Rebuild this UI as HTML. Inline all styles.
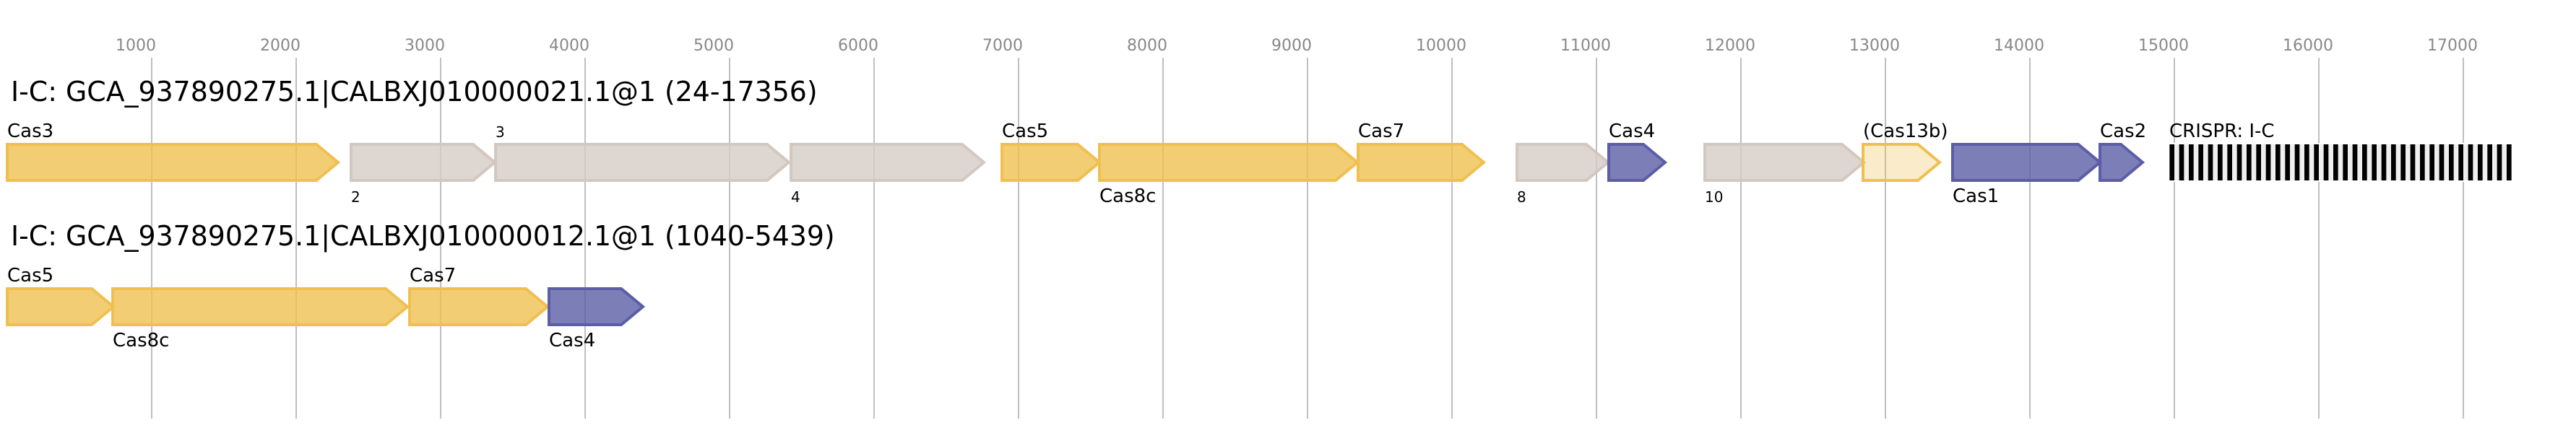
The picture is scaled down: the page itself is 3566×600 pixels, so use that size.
<!DOCTYPE html>
<html>
<head>
<meta charset="utf-8">
<style>
html,body{margin:0;padding:0;background:#fff;width:3566px;height:600px;overflow:hidden}
svg{display:block}
text{font-family:"DejaVu Sans","Liberation Sans",sans-serif;fill:#000}
.t{font-size:22px;fill:#888}
.h{font-size:37.85px}
.l{font-size:26px}
.s{font-size:20px}
.g{stroke-width:4;stroke-linejoin:miter;stroke-miterlimit:10;fill-opacity:.8}
.y{stroke:#efc050;fill:#efc050}
.b{stroke:#5b5ea6;fill:#5b5ea6}
.n{stroke:#d3c8c0;fill:#d4ccc6}
.p{stroke:#efc050;fill:#efc050;fill-opacity:.3}
</style>
</head>
<body>
<svg xmlns="http://www.w3.org/2000/svg" width="3566" height="600" viewBox="0 0 3566 600">
<rect width="3566" height="600" fill="#fff"/>
<g fill="#bfbfbf">
<rect x="209" y="80" width="2" height="500"/><rect x="409" y="80" width="2" height="500"/><rect x="609" y="80" width="2" height="500"/><rect x="809" y="80" width="2" height="500"/><rect x="1009" y="80" width="2" height="500"/><rect x="1209" y="80" width="2" height="500"/><rect x="1409" y="80" width="2" height="500"/><rect x="1609" y="80" width="2" height="500"/><rect x="1809" y="80" width="2" height="500"/><rect x="2009" y="80" width="2" height="500"/><rect x="2209" y="80" width="2" height="500"/><rect x="2409" y="80" width="2" height="500"/><rect x="2609" y="80" width="2" height="500"/><rect x="2809" y="80" width="2" height="500"/><rect x="3009" y="80" width="2" height="500"/><rect x="3209" y="80" width="2" height="500"/><rect x="3409" y="80" width="2" height="500"/>
</g>
<g class="tk">
<text class="t" x="160" y="70">1000</text><text class="t" x="360" y="70">2000</text><text class="t" x="560" y="70">3000</text><text class="t" x="760" y="70">4000</text><text class="t" x="960" y="70">5000</text><text class="t" x="1160" y="70">6000</text><text class="t" x="1360" y="70">7000</text><text class="t" x="1560" y="70">8000</text><text class="t" x="1760" y="70">9000</text><text class="t" x="1960" y="70">10000</text><text class="t" x="2160" y="70">11000</text><text class="t" x="2360" y="70">12000</text><text class="t" x="2560" y="70">13000</text><text class="t" x="2760" y="70">14000</text><text class="t" x="2960" y="70">15000</text><text class="t" x="3160" y="70">16000</text><text class="t" x="3360" y="70">17000</text>
</g>

<text class="h" x="15" y="140">I-C: GCA_937890275.1|CALBXJ010000021.1@1 (24-17356)</text>

<polygon class="g y" points="10,200 438,200 468,225 438,250 10,250"/>
<polygon class="g n" points="486,200 655,200 685,225 655,250 486,250"/>
<polygon class="g n" points="686,200 1062,200 1092,225 1062,250 686,250"/>
<polygon class="g n" points="1095,200 1332,200 1362,225 1332,250 1095,250"/>
<polygon class="g y" points="1387,200 1492,200 1522,225 1492,250 1387,250"/>
<polygon class="g y" points="1522,200 1849,200 1879,225 1849,250 1522,250"/>
<polygon class="g y" points="1880,200 2024,200 2054,225 2024,250 1880,250"/>
<polygon class="g n" points="2100,200 2196,200 2226,225 2196,250 2100,250"/>
<polygon class="g b" points="2227,200 2275,200 2305,225 2275,250 2227,250"/>
<polygon class="g n" points="2360,200 2550,200 2580,225 2550,250 2360,250"/>
<polygon class="g p" points="2579,200 2655,200 2685,225 2655,250 2579,250"/>
<polygon class="g b" points="2703,200 2877,200 2907,225 2877,250 2703,250"/>
<polygon class="g b" points="2907,200 2936,200 2966,225 2936,250 2907,250"/>

<rect x="3001.33" y="198" width="477.34" height="54" fill="#fff"/>
<rect x="3003.33" y="200" width="473.34" height="50" fill="#efefef"/>
<g fill="#000">
<rect x="3003.33" y="200" width="6.67" height="50"/><rect x="3016.67" y="200" width="6.67" height="50"/><rect x="3030" y="200" width="6.67" height="50"/><rect x="3043.33" y="200" width="6.67" height="50"/><rect x="3056.67" y="200" width="6.67" height="50"/><rect x="3070" y="200" width="6.67" height="50"/><rect x="3083.33" y="200" width="6.67" height="50"/><rect x="3096.67" y="200" width="6.67" height="50"/><rect x="3110" y="200" width="6.67" height="50"/><rect x="3123.33" y="200" width="6.67" height="50"/><rect x="3136.67" y="200" width="6.67" height="50"/><rect x="3150" y="200" width="6.67" height="50"/><rect x="3163.33" y="200" width="6.67" height="50"/><rect x="3176.67" y="200" width="6.67" height="50"/><rect x="3190" y="200" width="6.67" height="50"/><rect x="3203.33" y="200" width="6.67" height="50"/><rect x="3216.67" y="200" width="6.67" height="50"/><rect x="3230" y="200" width="6.67" height="50"/><rect x="3243.33" y="200" width="6.67" height="50"/><rect x="3256.67" y="200" width="6.67" height="50"/><rect x="3270" y="200" width="6.67" height="50"/><rect x="3283.33" y="200" width="6.67" height="50"/><rect x="3296.67" y="200" width="6.67" height="50"/><rect x="3310" y="200" width="6.67" height="50"/><rect x="3323.33" y="200" width="6.67" height="50"/><rect x="3336.67" y="200" width="6.67" height="50"/><rect x="3350" y="200" width="6.67" height="50"/><rect x="3363.33" y="200" width="6.67" height="50"/><rect x="3376.67" y="200" width="6.67" height="50"/><rect x="3390" y="200" width="6.67" height="50"/><rect x="3403.33" y="200" width="6.67" height="50"/><rect x="3416.67" y="200" width="6.67" height="50"/><rect x="3430" y="200" width="6.67" height="50"/><rect x="3443.33" y="200" width="6.67" height="50"/><rect x="3456.67" y="200" width="6.67" height="50"/><rect x="3470" y="200" width="6.67" height="50"/>
</g>

<text class="l" x="10" y="190">Cas3</text>
<text class="s" x="486" y="280">2</text>
<text class="s" x="686" y="190">3</text>
<text class="s" x="1095" y="280">4</text>
<text class="l" x="1387" y="190">Cas5</text>
<text class="l" x="1522" y="280">Cas8c</text>
<text class="l" x="1880" y="190">Cas7</text>
<text class="s" x="2100" y="280">8</text>
<text class="l" x="2227" y="190">Cas4</text>
<text class="s" x="2360" y="280">10</text>
<text class="l" x="2579" y="190">(Cas13b)</text>
<text class="l" x="2703" y="280">Cas1</text>
<text class="l" x="2907" y="190">Cas2</text>
<text class="l" x="3003" y="190">CRISPR: I-C</text>

<text class="h" x="15" y="340">I-C: GCA_937890275.1|CALBXJ010000012.1@1 (1040-5439)</text>

<polygon class="g y" points="10,400 127,400 157,425 127,450 10,450"/>
<polygon class="g y" points="156,400 534,400 564,425 534,450 156,450"/>
<polygon class="g y" points="567,400 728,400 758,425 728,450 567,450"/>
<polygon class="g b" points="760,400 860,400 890,425 860,450 760,450"/>

<text class="l" x="10" y="390">Cas5</text>
<text class="l" x="156" y="480">Cas8c</text>
<text class="l" x="567" y="390">Cas7</text>
<text class="l" x="760" y="480">Cas4</text>
</svg>
</body>
</html>
